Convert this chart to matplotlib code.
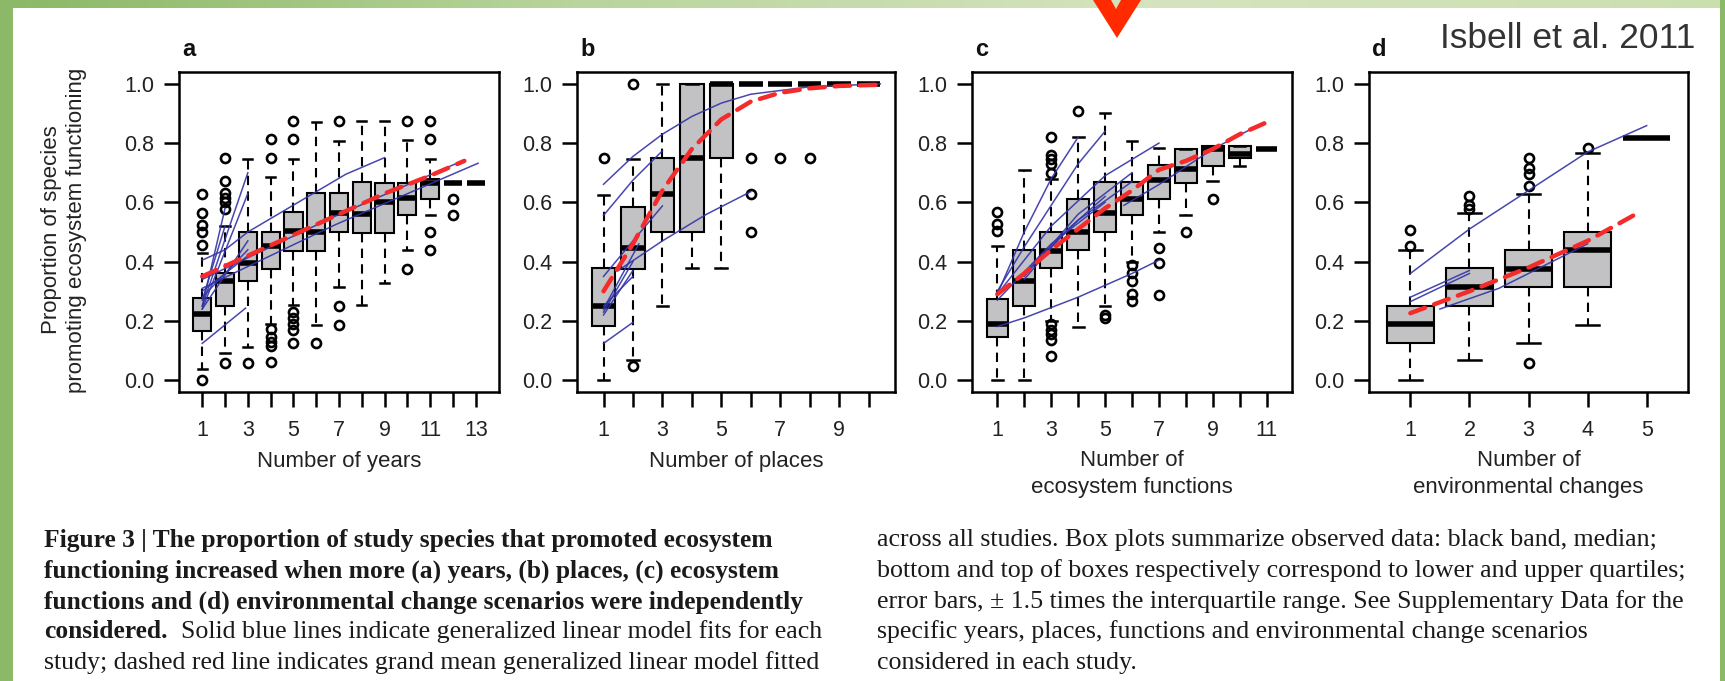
import matplotlib
matplotlib.use("Agg")
import numpy as np
import matplotlib.pyplot as plt
from matplotlib.patches import Polygon, Rectangle
from matplotlib.colors import LinearSegmentedColormap

W, H = 1725, 681
DPI = 100

# ---------------- box-plot summaries (proportion of species) ----------------
# (a) number of years, positions 1..13
years_q1 = [0.167, 0.25, 0.336, 0.376, 0.437, 0.437, 0.50, 0.497, 0.497, 0.557, 0.612, 0.667, 0.667]
years_med = [0.224, 0.335, 0.395, 0.452, 0.503, 0.50, 0.565, 0.56, 0.60, 0.616, 0.667, 0.667, 0.667]
years_q3 = [0.277, 0.36, 0.50, 0.50, 0.567, 0.631, 0.631, 0.67, 0.667, 0.667, 0.678, 0.667, 0.667]
years_lo = [0.036, 0.09, 0.113, 0.19, 0.254, 0.186, 0.316, 0.254, 0.328, 0.44, 0.557, 0.667, 0.667]
years_hi = [0.43, 0.52, 0.748, 0.687, 0.748, 0.87, 0.808, 0.876, 0.876, 0.811, 0.748, 0.667, 0.667]
years_out = [[0.627, 0.565, 0.525, 0.50, 0.457, 0.0],
             [0.751, 0.672, 0.633, 0.616, 0.60, 0.576, 0.057],
             [0.059],
             [0.813, 0.751, 0.172, 0.147, 0.13, 0.115, 0.062],
             [0.876, 0.814, 0.229, 0.209, 0.19, 0.17, 0.124],
             [0.124],
             [0.876, 0.251, 0.186],
             [], [],
             [0.876, 0.375],
             [0.876, 0.814, 0.50, 0.44],
             [0.612, 0.557],
             []]

# (b) number of places, positions 1..10
places_q1 = [0.183, 0.376, 0.50, 0.50, 0.749, 1.0, 1.0, 1.0, 1.0, 1.0]
places_med = [0.249, 0.446, 0.627, 0.751, 1.0, 1.0, 1.0, 1.0, 1.0, 1.0]
places_q3 = [0.379, 0.585, 0.749, 1.0, 1.0, 1.0, 1.0, 1.0, 1.0, 1.0]
places_lo = [0.0, 0.068, 0.251, 0.379, 0.379, 1.0, 1.0, 1.0, 1.0, 1.0]
places_hi = [0.624, 0.748, 1.0, 1.0, 1.0, 1.0, 1.0, 1.0, 1.0, 1.0]
places_out = [[0.751], [1.0, 0.047], [], [], [],
              [0.75, 0.627, 0.50], [0.75], [0.75], [], []]

# (c) number of ecosystem functions, positions 1..11
funcs_q1 = [0.146, 0.25, 0.378, 0.439, 0.50, 0.556, 0.612, 0.667, 0.723, 0.751, 0.78]
funcs_med = [0.19, 0.335, 0.435, 0.50, 0.565, 0.61, 0.675, 0.712, 0.78, 0.763, 0.78]
funcs_q3 = [0.273, 0.44, 0.50, 0.612, 0.669, 0.669, 0.725, 0.78, 0.789, 0.789, 0.78]
funcs_lo = [0.0, 0.0, 0.20, 0.181, 0.25, 0.40, 0.50, 0.557, 0.672, 0.723, 0.78]
funcs_hi = [0.452, 0.71, 0.68, 0.82, 0.90, 0.806, 0.785, 0.78, 0.789, 0.789, 0.78]
funcs_out = [[0.566, 0.527, 0.505], [],
             [0.82, 0.76, 0.745, 0.73, 0.70, 0.19, 0.17, 0.155, 0.135, 0.08],
             [0.91], [0.22, 0.21], [0.39, 0.36, 0.335, 0.29, 0.266],
             [0.446, 0.395, 0.288], [0.50], [0.612], [], []]

# (d) number of environmental changes, positions 1..5
env_q1 = [0.127, 0.251, 0.314, 0.314, 0.817]
env_med = [0.19, 0.316, 0.375, 0.438, 0.817]
env_q3 = [0.251, 0.379, 0.438, 0.50, 0.817]
env_lo = [0.0, 0.068, 0.127, 0.186, 0.817]
env_hi = [0.44, 0.565, 0.627, 0.768, 0.817]
env_out = [[0.506, 0.452], [0.62, 0.59, 0.578],
           [0.751, 0.717, 0.695, 0.655, 0.059], [0.785], []]

# ---------------- per-study GLM fits (blue) ----------------
years_fit_x = [[1, 2, 3, 7.3, 9], [1, 6.85, 12.5], [1, 6.85, 13.1],
               [1, 3], [1, 3], [1, 2], [1, 2], [1, 3], [1, 3], [1, 3], [1, 2.9]]
years_fit_y = [[0.405, 0.44, 0.50, 0.695, 0.751], [0.34, 0.554, 0.743], [0.31, 0.525, 0.732],
               [0.25, 0.70], [0.24, 0.63], [0.25, 0.58], [0.27, 0.52], [0.24, 0.47],
               [0.28, 0.44], [0.30, 0.42], [0.124, 0.243]]

places_fit_x = [[1, 2, 3, 4, 5, 6, 8, 10.4], [1, 2, 3], [1, 2, 3],
                [1.5, 3, 4.5, 6], [1, 2], [1, 2], [1, 2], [1, 2.2], [1, 2]]
places_fit_y = [[0.661, 0.755, 0.83, 0.89, 0.935, 0.965, 0.99, 1.0],
                [0.556, 0.675, 0.774], [0.35, 0.47, 0.588],
                [0.37, 0.47, 0.56, 0.636], [0.23, 0.40], [0.22, 0.37],
                [0.25, 0.35], [0.24, 0.46], [0.124, 0.195]]

funcs_fit_x = [[1, 2, 3, 4, 5, 6, 7], [1, 2, 3, 4], [1, 2, 3, 4, 5], [1, 3, 5, 7],
               [2, 4, 6], [2, 4, 6], [2, 3.5, 5], [1, 3, 5], [5.7, 7, 9, 10.9]]
funcs_fit_y = [[0.181, 0.21, 0.245, 0.28, 0.32, 0.36, 0.405],
               [0.29, 0.50, 0.68, 0.82], [0.30, 0.45, 0.59, 0.73, 0.84],
               [0.29, 0.52, 0.69, 0.80], [0.35, 0.56, 0.70], [0.36, 0.54, 0.67],
               [0.34, 0.50, 0.62], [0.27, 0.46, 0.60], [0.59, 0.66, 0.78, 0.87]]

env_fit_x = [[1, 2, 3, 4, 5], [1, 2], [1, 2], [1.5, 2.5, 4]]
env_fit_y = [[0.36, 0.51, 0.64, 0.77, 0.859], [0.28, 0.37], [0.265, 0.36], [0.24, 0.31, 0.46]]

# ---------------- grand-mean GLM fits (red dashed) ----------------
years_mean_x = [1, 3, 5, 7, 9, 11, 12.5]
years_mean_y = [0.35, 0.42, 0.49, 0.56, 0.63, 0.69, 0.74]
places_mean_x = [1, 2, 3, 4, 5, 6, 7, 8, 9, 10.4]
places_mean_y = [0.30, 0.46, 0.64, 0.78, 0.88, 0.94, 0.97, 0.985, 0.993, 0.997]
funcs_mean_x = [1, 2, 3, 4, 5, 6, 7, 8, 9, 10, 11]
funcs_mean_y = [0.29, 0.36, 0.44, 0.51, 0.58, 0.64, 0.71, 0.74, 0.78, 0.83, 0.87]
env_mean_x = [1, 2, 3, 4, 4.86]
env_mean_y = [0.226, 0.30, 0.38, 0.47, 0.565]

# ---------------- text ----------------
panel_letters = ["a", "b", "c", "d"]
x_titles = ["Number of years", "Number of places", "Number of\necosystem functions",
            "Number of\nenvironmental changes"]
y_title = "Proportion of species\npromoting ecosystem functioning"
y_ticks = [0.0, 0.2, 0.4, 0.6, 0.8, 1.0]
citation = "Isbell et al. 2011"

caption_left_bold = ["Figure 3 | The proportion of study species that promoted ecosystem",
                     "functioning increased when more (a) years, (b) places, (c) ecosystem",
                     "functions and (d) environmental change scenarios were independently",
                     "considered."]
caption_left_rest = ["  Solid blue lines indicate generalized linear model fits for each",
                     "study; dashed red line indicates grand mean generalized linear model fitted"]
caption_right = ["across all studies. Box plots summarize observed data: black band, median;",
                 "bottom and top of boxes respectively correspond to lower and upper quartiles;",
                 "error bars, \u00b1 1.5 times the interquartile range. See Supplementary Data for the",
                 "specific years, places, functions and environmental change scenarios",
                 "considered in each study."]

SANS = ["Liberation Sans", "DejaVu Sans"]
SERIF = ["Liberation Serif", "DejaVu Serif"]
TXT = "#222222"

fig = plt.figure(figsize=(W / DPI, H / DPI), dpi=DPI)
fig.patch.set_facecolor("white")


def px_axes(left, right, top, bottom):
    return fig.add_axes([left / W, 1 - bottom / H, (right - left) / W, (bottom - top) / H])


def stats_list(q1, med, q3, lo, hi, out):
    return [dict(q1=a, med=m, q3=b, whislo=l, whishi=h, fliers=f)
            for a, m, b, l, h, f in zip(q1, med, q3, lo, hi, out)]


panels = [
    dict(box=(179, 499), n=13, stats=stats_list(years_q1, years_med, years_q3, years_lo, years_hi, years_out),
         fx=years_fit_x, fy=years_fit_y, mx=years_mean_x, my=years_mean_y, odd_only=True),
    dict(box=(577, 895), n=10, stats=stats_list(places_q1, places_med, places_q3, places_lo, places_hi, places_out),
         fx=places_fit_x, fy=places_fit_y, mx=places_mean_x, my=places_mean_y, odd_only=True),
    dict(box=(972, 1292), n=11, stats=stats_list(funcs_q1, funcs_med, funcs_q3, funcs_lo, funcs_hi, funcs_out),
         fx=funcs_fit_x, fy=funcs_fit_y, mx=funcs_mean_x, my=funcs_mean_y, odd_only=True),
    dict(box=(1369, 1688), n=5, stats=stats_list(env_q1, env_med, env_q3, env_lo, env_hi, env_out),
         fx=env_fit_x, fy=env_fit_y, mx=env_mean_x, my=env_mean_y, odd_only=False),
]

AX_TOP, AX_BOTTOM = 72, 392

for i, p in enumerate(panels):
    left, right = p["box"]
    n = p["n"]
    ax = px_axes(left, right, AX_TOP, AX_BOTTOM)
    ax.bxp(p["stats"], positions=np.arange(1, n + 1), widths=0.8, patch_artist=True,
           showfliers=True, manage_ticks=False,
           boxprops=dict(facecolor="#c2c2c4", edgecolor="black", linewidth=1.5),
           medianprops=dict(color="black", linewidth=4.0, solid_capstyle="butt"),
           whiskerprops=dict(color="black", linewidth=1.5, linestyle=(0, (4.5, 3))),
           capprops=dict(color="black", linewidth=1.8),
           flierprops=dict(marker="o", markerfacecolor="none", markeredgecolor="black",
                           markersize=6.5, markeredgewidth=1.9))
    for xs, ys in zip(p["fx"], p["fy"]):
        ax.plot(xs, ys, color="#3333a8", lw=1.1, alpha=0.9, zorder=4)
    ax.plot(p["mx"], p["my"], color="#f52a2a", lw=3.2, dashes=(3.5, 2.2),
            dash_capstyle="round", zorder=5)

    pad = 0.04 * n
    ax.set_xlim(0.5 - pad, n + 0.5 + pad)
    ax.set_ylim(-0.04, 1.04)
    ax.set_xticks(np.arange(1, n + 1))
    ax.set_xticklabels([str(k) if (k % 2 == 1 or not p["odd_only"]) else "" for k in range(1, n + 1)])
    ax.set_yticks(y_ticks)
    ax.set_yticklabels([f"{v:.1f}" for v in y_ticks])
    ax.tick_params(axis="y", pad=7)
    ax.tick_params(axis="x", pad=9)
    ax.tick_params(direction="out", length=11, width=1.8, labelsize=15.5,
                   labelcolor=TXT, color="black")
    for lab in ax.get_xticklabels() + ax.get_yticklabels():
        lab.set_family(SANS)
    for sp in ax.spines.values():
        sp.set_linewidth(1.8)

    cx = (left + right) / 2
    title = x_titles[i]
    ty = 461 if "\n" not in title else 474
    fig.text(cx / W, 1 - ty / H, title, ha="center", va="center", fontsize=16,
             family=SANS, color=TXT, linespacing=1.35)
    fig.text((left + 3) / W, 1 - 50 / H, panel_letters[i], ha="left", va="center",
             fontsize=17, fontweight="bold", family=SANS, color="#111111")

fig.text(64 / W, 1 - 230 / H, y_title, rotation=90, ha="center", va="center",
         fontsize=16, family=SANS, color=TXT, linespacing=1.3)

fig.text(1695 / W, 1 - 39 / H, citation, ha="right", va="center", fontsize=25.5,
         family=SANS, color="#333333")

# caption
cap_fs = 18.6
line_y = [540, 571, 602, 632, 663]
renderer = fig.canvas.get_renderer()
for k, line in enumerate(caption_left_bold):
    t = fig.text(44 / W, 1 - line_y[k] / H, line, ha="left", va="center", fontsize=cap_fs - 0.2,
                 fontweight="bold", family=SERIF, color="#1a1a1a")
    if k == 3:
        bb = t.get_window_extent(renderer)
        fig.text(bb.x1 / W, 1 - line_y[k] / H, caption_left_rest[0], ha="left", va="center",
                 fontsize=cap_fs, family=SERIF, color="#1a1a1a")
fig.text(44 / W, 1 - line_y[4] / H, caption_left_rest[1], ha="left", va="center",
         fontsize=cap_fs, family=SERIF, color="#1a1a1a")
for k, line in enumerate(caption_right):
    fig.text(877 / W, 1 - line_y[k] / H, line, ha="left", va="center", fontsize=cap_fs,
             family=SERIF, color="#1a1a1a")

# slide frame: green bars and the red marker arrow
frame = fig.add_axes([0, 0, 1, 1], zorder=10)
frame.axis("off")
grad = np.linspace(0, 1, 256)[None, :]
top_cmap = LinearSegmentedColormap.from_list("topbar", ["#8bb866", "#b9d49c", "#d5e4bf", "#cadfae"])
frame.imshow(grad, cmap=top_cmap, extent=(0, W, 8, 0), aspect="auto")
frame.add_patch(Rectangle((0, 0), 13, H, color="#8cb968", lw=0))
frame.add_patch(Rectangle((W - 5, 0), 5, H, color="#8cb968", lw=0))
frame.add_patch(Polygon([(1093, 0), (1111, 0), (1116, 9), (1121, 0), (1141, 0), (1117, 38)],
                        closed=True, color="#ff2a00", lw=0))
frame.set_xlim(0, W)
frame.set_ylim(H, 0)

fig.savefig("out.png", dpi=DPI)
